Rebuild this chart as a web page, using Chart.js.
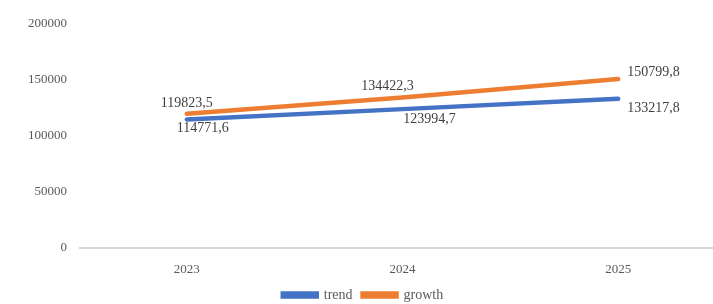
<!DOCTYPE html>
<html>
<head>
<meta charset="utf-8">
<script src="https://cdn.jsdelivr.net/npm/chart.js@4/dist/chart.umd.min.js"></script>
<style>
  html, body { margin: 0; padding: 0; background: #fff; overflow: hidden; }
  .chart-container { position: relative; width: 745px; height: 304px; }
</style>
</head>
<body>
<div class="chart-container"><canvas id="lineChart"></canvas></div>
<script>
// chart data
const years = ['2023', '2024', '2025'];
const trend = [114771.6, 123994.7, 133217.8];
const growth = [119823.5, 134422.3, 150799.8];
const yTicks = [0, 50000, 100000, 150000, 200000];

const COLORS = {
    blue: '#4472C4',
    orange: '#ED7D31',
    tick: '#595959',
    label: '#404040',
    axis: '#d9d9d9'
};

const FONT = 'Liberation Serif';

// where each value label sits relative to its point [dx, dy, align]
const labelOffsets = {
    0: [[16, 9, 'center'], [27, 10, 'center'], [9, 10, 'left']],   // trend (below)
    1: [[0, -10, 'center'], [-15, -11, 'center'], [9, -7, 'left']] // growth (above)
};

function fmt(v) {
    return v.toFixed(1).replace('.', ',');
}

// draws the numbers next to the points
const valueLabels = {
    id: 'valueLabels',
    afterDatasetsDraw(chart) {
        const ctx = chart.ctx;
        ctx.save();
        ctx.font = '14px "' + FONT + '"';
        ctx.fillStyle = COLORS.label;
        ctx.textBaseline = 'middle';
        chart.data.datasets.forEach(function (ds, i) {
            const meta = chart.getDatasetMeta(i);
            meta.data.forEach(function (pt, j) {
                const off = labelOffsets[i][j];
                ctx.textAlign = off[2];
                ctx.fillText(fmt(ds.data[j]), pt.x + off[0], pt.y + off[1]);
            });
        });
        ctx.restore();
    }
};

var ctx = document.getElementById('lineChart').getContext('2d');
var myChart = new Chart(ctx, {
    type: 'line',
    data: {
        labels: years,
        datasets: [
            {
                label: 'trend',
                data: trend,
                borderColor: COLORS.blue,
                backgroundColor: COLORS.blue,
                borderWidth: 4.5,
                pointRadius: 0,
                borderCapStyle: 'round'
            },
            {
                label: 'growth',
                data: growth,
                borderColor: COLORS.orange,
                backgroundColor: COLORS.orange,
                borderWidth: 4.5,
                pointRadius: 0,
                borderCapStyle: 'round'
            }
        ]
    },
    options: {
        responsive: true,
        maintainAspectRatio: false,
        animation: false,
        layout: { padding: { top: 24, right: 19, left: 0, bottom: -8 } },
        plugins: {
            legend: {
                position: 'bottom',
                labels: {
                    font: { family: FONT, size: 14 },
                    color: COLORS.tick,
                    boxWidth: 34,
                    boxHeight: 3,
                    padding: 10
                }
            },
            tooltip: { enabled: false }
        },
        scales: {
            x: {
                offset: true,
                afterFit: function (scale) { scale.height = 30; },
                grid: { display: false },
                border: { display: false },
                ticks: {
                    font: { family: FONT, size: 13 },
                    color: COLORS.tick,
                    padding: 6
                }
            },
            y: {
                min: 0,
                max: 200000,
                afterFit: function (scale) { scale.width = 79; },
                afterBuildTicks: function (scale) {
                    scale.ticks = yTicks.map(function (v) { return { value: v }; });
                },
                grid: {
                    drawTicks: false,
                    lineWidth: 2,
                    color: function (c) { return c.tick && c.tick.value === 0 ? COLORS.axis : 'transparent'; }
                },
                border: { display: false },
                ticks: {
                    font: { family: FONT, size: 13 },
                    color: COLORS.tick,
                    padding: 12,
                    callback: function (v) { return String(v); }
                }
            }
        }
    },
    plugins: [valueLabels]
});
</script>
</body>
</html>
